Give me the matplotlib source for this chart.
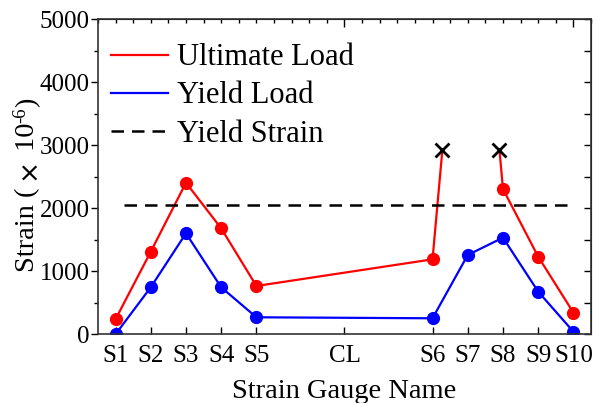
import matplotlib
matplotlib.use("Agg")
import matplotlib.pyplot as plt
from matplotlib.lines import Line2D
from matplotlib.ticker import MultipleLocator, FixedLocator

plt.rcParams["font.family"] = ["Liberation Serif", "DejaVu Serif"]

# gauge names and their positions along the member
gauges = ["S1", "S2", "S3", "S4", "S5", "CL", "S6", "S7", "S8", "S9", "S10"]
gauge_pos = [1, 2, 3, 4, 5, 7.5, 10, 11, 12, 13, 14]

# ultimate load (red), S7 missing -> gauges failed (x marks)
ult_left_pos = [1, 2, 3, 4, 5, 10]
ult_left = [238, 1311, 2406, 1682, 767, 1190]
ult_right_pos = [12, 13, 14]
ult_right = [2306, 1232, 343]
fail_pos = [10.28, 11.9]
fail_val = [2930, 2930]

# yield load (blue)
yld_pos = [1, 2, 3, 4, 5, 10, 11, 12, 13, 14]
yld = [0, 746, 1603, 746, 270, 254, 1259, 1534, 677, 41]

yield_strain = 2052
yield_span = [1.25, 14]

fig = plt.figure(figsize=(5.97, 4.03), dpi=100)
ax = fig.add_axes([0.164, 0.1705, 0.826, 0.7815])

red = "#ff0000"
blue = "#0000ff"
ax.plot(ult_left_pos + [fail_pos[0]], ult_left + [fail_val[0]], color=red, lw=1.6)
ax.plot(ult_left_pos, ult_left, color=red, lw=0, marker="o", ms=8.5)
ax.plot([fail_pos[1]] + ult_right_pos, [fail_val[1]] + ult_right, color=red, lw=1.6)
ax.plot(ult_right_pos, ult_right, color=red, lw=0, marker="o", ms=8.5)
ax.plot(yld_pos, yld, color=blue, lw=1.6, marker="o", ms=8.5)
ax.plot(yield_span, [yield_strain] * 2, color="black", lw=1.8, ls=(0, (5, 3.2)))
ax.plot(fail_pos, fail_val, ls="none", marker="x", ms=10, mew=2, color="black")

ax.set_xlim(0.5, 14.5)
ax.set_ylim(0, 5000)
ax.set_xticks(gauge_pos)
ax.set_xticklabels(gauges)
ax.yaxis.set_major_locator(MultipleLocator(1000))
ax.yaxis.set_minor_locator(MultipleLocator(500))

ax.tick_params(axis="x", which="major", direction="in", length=5, width=1,
               labelsize=18, pad=8)
ax.tick_params(axis="y", which="major", direction="out", length=5, width=1,
               labelsize=18, pad=1)
ax.tick_params(axis="y", which="minor", direction="out", length=3, width=1)

# inward ticks on top and right
top = ax.secondary_xaxis("top")
top.xaxis.set_major_locator(FixedLocator([7.5, 14]))
top.xaxis.set_minor_locator(MultipleLocator(0.5))
top.tick_params(which="major", direction="in", length=6, width=1, labeltop=False)
top.tick_params(which="minor", direction="in", length=3, width=1)
right = ax.secondary_yaxis("right")
right.yaxis.set_major_locator(MultipleLocator(1000))
right.yaxis.set_minor_locator(MultipleLocator(500))
right.tick_params(which="major", direction="in", length=5, width=1, labelright=False)
right.tick_params(which="minor", direction="in", length=5, width=1)

for s in ax.spines.values():
    s.set_linewidth(1.2)
    s.set_color("#333333")

ax.set_xlabel("Strain Gauge Name", fontsize=20.5, labelpad=8)

# y label in pieces so the superscript keeps a plain hyphen
renderer = fig.canvas.get_renderer()
parts = [("Strain ( ", 20.5, 0.0, None),
         ("\u00d7", 19, 1.0, "DejaVu Sans"),
         (" 10", 20.5, 0.0, None),
         ("-6", 13.5, -7.5, None),
         (")", 20.5, 0.0, None)]
texts = []
for s, size, dx, fam in parts:
    kw = {"family": fam} if fam else {}
    t = fig.text(0, 0, s, fontsize=size, rotation=90, ha="center", va="bottom", **kw)
    texts.append((t, dx))
lengths = [t.get_window_extent(renderer).height for t, _ in texts]
W, H = fig.bbox.width, fig.bbox.height
x_c = 28.0
y_px = (H - 185.0) - sum(lengths) / 2
for (t, dx), L in zip(texts, lengths):
    t.set_position(((x_c + dx) / W, y_px / H))
    y_px += L

handles = [Line2D([], [], color=red, lw=1.6),
           Line2D([], [], color=blue, lw=1.6),
           Line2D([], [], color="black", lw=1.8, ls=(0, (5, 3.2)))]
ax.legend(handles, ["Ultimate Load", "Yield Load", "Yield Strain"],
          loc="upper left", frameon=False, fontsize=22, handlelength=1.85,
          handletextpad=0.3, labelspacing=0.3, borderaxespad=0.35,
          bbox_to_anchor=(-0.019, 0.997))

fig.savefig("out.png", dpi=100)
